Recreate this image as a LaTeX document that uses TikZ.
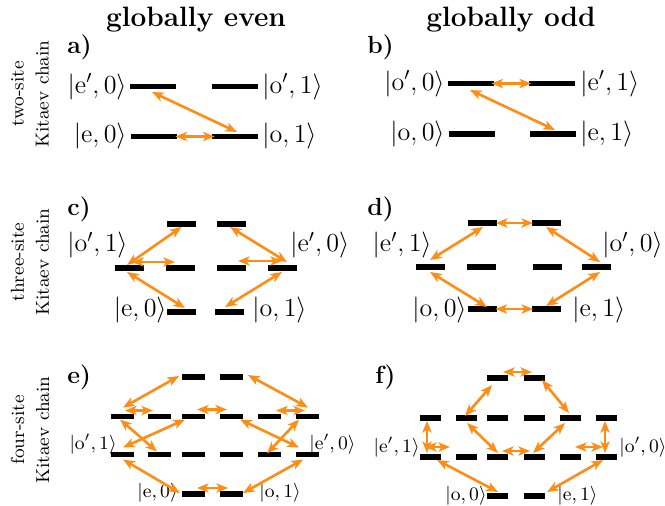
\RequirePackage{fix-cm}
\documentclass[tikz,border=0pt]{standalone}
\usetikzlibrary{arrows.meta}
\definecolor{arr}{RGB}{255,140,20}
\tikzset{
  lvl/.style={fill=black, inner sep=0pt, minimum height=2.9pt, minimum width=#1},
  lab/.style={inner sep=0pt, font=\fontsize{13}{15}\selectfont},
  labS/.style={inner sep=0pt, font=\fontsize{9.5}{11}\selectfont},
  hdr/.style={inner sep=0pt, anchor=base, font=\fontsize{14}{16}\selectfont\bfseries},
  plet/.style={inner sep=0pt, anchor=base west, font=\fontsize{12.4}{14}\selectfont\bfseries},
  side/.style={inner sep=0pt, rotate=90, align=center, font=\fontsize{9.4}{12.5}\selectfont},
  tr/.style={draw=arr, line width=1.3pt,
    {Stealth[length=5.8pt,width=4.6pt,inset=1.5pt]}-{Stealth[length=5.8pt,width=4.6pt,inset=1.5pt]}}
}
\begin{document}
\begin{tikzpicture}[x=0.5pt,y=-0.5pt]
\path[use as bounding box] (0,0) rectangle (665,506);

% headers
\node[hdr] (h1) at (196,27) {globally even};
\node[hdr] (h2) at (511,27) {globally odd};

% side labels
\node[side] (s1) at (30,94) {two-site\\Kitaev chain};
\node[side] (s2) at (30,262) {three-site\\Kitaev chain};
\node[side] (s3) at (30,430) {four-site\\Kitaev chain};

% panel letters
\node[plet] (pa) at (67,54) {a)};
\node[plet] (pb) at (367,54) {b)};
\node[plet] (pc) at (67,216) {c)};
\node[plet] (pd) at (367,216) {d)};
\node[plet] (pe) at (67,384) {e)};
\node[plet] (pf) at (375,384) {f)};

% ---------- panel a ----------
\node[lvl=23pt] (A1) at (153,86.5) {};
\node[lvl=23pt] (A2) at (234.5,86.5) {};
\node[lvl=23pt] (A3) at (153.5,136.5) {};
\node[lvl=23pt] (A4) at (234.5,136.5) {};
\node[lab, anchor=east] (la1) at (127,86.5) {$|\mathrm{e}',0\rangle$};
\node[lab, anchor=west] (la2) at (262,86.5) {$|\mathrm{o}',1\rangle$};
\node[lab, anchor=east] (la3) at (127,136.5) {$|\mathrm{e},0\rangle$};
\node[lab, anchor=west] (la4) at (262,136.5) {$|\mathrm{o},1\rangle$};
\draw[tr] ([shift={(-1.5,0)}]A3.east) -- ([shift={(3.5,0)}]A4.west);
\draw[tr] ([shift={(-1,5.5)}]A1.center) -- ([shift={(2.5,-4.5)}]A4.center);

% ---------- panel b ----------
\node[lvl=23pt] (B1) at (471,83.5) {};
\node[lvl=23pt] (B2) at (551.5,83.5) {};
\node[lvl=23pt] (B3) at (472,134) {};
\node[lvl=23pt] (B4) at (552.5,134) {};
\node[lab, anchor=east] (lb1) at (445,83.5) {$|\mathrm{o}',0\rangle$};
\node[lab, anchor=west] (lb2) at (580,83.5) {$|\mathrm{e}',1\rangle$};
\node[lab, anchor=east] (lb3) at (445,134) {$|\mathrm{o},0\rangle$};
\node[lab, anchor=west] (lb4) at (580,134) {$|\mathrm{e},1\rangle$};
\draw[tr] ([shift={(-3,0)}]B1.east) -- ([shift={(3,0)}]B2.west);
\draw[tr] ([shift={(-1,6.5)}]B1.center) -- ([shift={(2.5,-4)}]B4.center);

% ---------- panel c ----------
\node[lvl=14.5pt] (C1) at (181.5,224) {};
\node[lvl=14.5pt] (C2) at (231,224) {};
\node[lvl=14.5pt] (C3) at (129.5,268) {};
\node[lvl=14.5pt] (C4) at (180.5,268) {};
\node[lvl=14.5pt] (C5) at (231,268) {};
\node[lvl=14.5pt] (C6) at (282,268) {};
\node[lvl=14.5pt] (C7) at (181.5,312) {};
\node[lvl=14.5pt] (C8) at (229.5,312) {};
\node[lab, anchor=east] (lc1) at (128,245) {$|\mathrm{o}',1\rangle$};
\node[lab, anchor=west] (lc2) at (290,245) {$|\mathrm{e}',0\rangle$};
\node[lab, anchor=east] (lc3) at (167,310) {$|\mathrm{e},0\rangle$};
\node[lab, anchor=west] (lc4) at (252,310) {$|\mathrm{o},1\rangle$};
\draw[tr] ([shift={(-2.5,-3)}]C3.center) -- ([shift={(0,3)}]C1.center);
\draw[tr] ([shift={(2.5,-6)}]C3.center) -- ([shift={(-5.5,-6)}]C4.center);
\draw[tr] ([shift={(-2.5,4)}]C3.center) -- ([shift={(3.5,-4)}]C7.center);
\draw[tr] ([shift={(-1,3)}]C2.center) -- ([shift={(5,-6)}]C6.center);
\draw[tr] ([shift={(7,-7)}]C5.center) -- ([shift={(0,-7)}]C6.center);
\draw[tr] ([shift={(0,4)}]C6.center) -- ([shift={(-4.5,-5)}]C8.center);

% ---------- panel d ----------
\node[lvl=14.5pt] (D1) at (482.5,223) {};
\node[lvl=14.5pt] (D2) at (546.5,223) {};
\node[lvl=14.5pt] (D3) at (430.5,267) {};
\node[lvl=14.5pt] (D4) at (481.5,267) {};
\node[lvl=14.5pt] (D5) at (547,267) {};
\node[lvl=14.5pt] (D6) at (596.5,267) {};
\node[lvl=14.5pt] (D7) at (482,309) {};
\node[lvl=14.5pt] (D8) at (546.5,309) {};
\node[lab, anchor=east] (ld1) at (432,245) {$|\mathrm{e}',1\rangle$};
\node[lab, anchor=west] (ld2) at (602,245) {$|\mathrm{o}',0\rangle$};
\node[lab, anchor=east] (ld3) at (467,310) {$|\mathrm{o},0\rangle$};
\node[lab, anchor=west] (ld4) at (572,310) {$|\mathrm{e},1\rangle$};
\draw[tr] ([shift={(-1.5,0)}]D1.east) -- ([shift={(1.5,0)}]D2.west);
\draw[tr] ([shift={(-0.5,-7)}]D3.center) -- ([shift={(0.5,4)}]D1.center);
\draw[tr] ([shift={(-0.5,4)}]D2.center) -- ([shift={(3.5,-5)}]D6.center);
\draw[tr] ([shift={(-0.5,5)}]D3.center) -- ([shift={(5,-2)}]D7.center);
\draw[tr] ([shift={(3.5,5)}]D6.center) -- ([shift={(-0.5,-3)}]D8.center);
\draw[tr] ([shift={(-1.5,0)}]D7.east) -- ([shift={(1.5,0)}]D8.west);

% ---------- panel e ----------
\node[lvl=11.5pt] (E1) at (193,377) {};
\node[lvl=11.5pt] (E2) at (231,377) {};
\foreach \n/\x in {3/122,4/159,5/193,6/231,7/269,8/307}
  \node[lvl=11.5pt] (E\n) at (\x,416.5) {};
\foreach \n/\x in {9/122,10/159,11/193,12/231,13/269,14/307}
  \node[lvl=11.5pt] (E\n) at (\x,454.5) {};
\node[lvl=11.5pt] (E15) at (193,494) {};
\node[lvl=11.5pt] (E16) at (231,494) {};
\node[labS, anchor=east] (le1) at (117,444) {$|\mathrm{o}',1\rangle$};
\node[labS, anchor=west] (le2) at (309,444) {$|\mathrm{e}',0\rangle$};
\node[labS, anchor=east] (le3) at (178,492.5) {$|\mathrm{e},0\rangle$};
\node[labS, anchor=west] (le4) at (259,492.5) {$|\mathrm{o},1\rangle$};
\draw[tr] ([shift={(1,-9)}]E3.center) -- ([shift={(-14,-1)}]E1.center);
\draw[tr] ([shift={(17,-2)}]E2.center) -- ([shift={(1,-9)}]E8.center);
\draw[tr] ([shift={(3,-6)}]E3.center) -- ([shift={(-6,-6)}]E4.center);
\draw[tr] ([shift={(4,-7)}]E5.center) -- ([shift={(-4,-7)}]E6.center);
\draw[tr] ([shift={(7,-6)}]E7.center) -- ([shift={(-2,-6)}]E8.center);
\draw[tr] ([shift={(-2,3)}]E3.center) -- ([shift={(-2,-3)}]E10.center);
\draw[tr] ([shift={(-8,3)}]E5.center) -- ([shift={(1,-7)}]E9.center);
\draw[tr] ([shift={(9,3)}]E6.center) -- ([shift={(-8,-7)}]E14.center);
\draw[tr] ([shift={(-8,3)}]E8.center) -- ([shift={(-2,-1)}]E13.center);
\draw[tr] ([shift={(1,5)}]E9.center) -- ([shift={(-13,-1)}]E15.center);
\draw[tr] ([shift={(-4,5)}]E14.center) -- ([shift={(12,-1)}]E16.center);
\draw[tr] ([shift={(4,-6)}]E15.center) -- ([shift={(-3,-6)}]E16.center);

% ---------- panel f ----------
\node[lvl=10.5pt] (F1) at (497,378) {};
\node[lvl=10.5pt] (F2) at (534,378) {};
\foreach \n/\x in {3/430,4/466.5,5/497,6/534,7/570,8/606.5}
  \node[lvl=10.5pt] (F\n) at (\x,418) {};
\foreach \n/\x in {9/430,10/466.5,11/497,12/534,13/570,14/606.5}
  \node[lvl=10.5pt] (F\n) at (\x,457) {};
\node[lvl=10.5pt] (F15) at (497,496) {};
\node[lvl=10.5pt] (F16) at (534,496) {};
\node[labS, anchor=east] (lf1) at (420,447.5) {$|\mathrm{e}',1\rangle$};
\node[labS, anchor=west] (lf2) at (619,447.5) {$|\mathrm{o}',0\rangle$};
\node[labS, anchor=east] (lf3) at (487,495.5) {$|\mathrm{o},0\rangle$};
\node[labS, anchor=west] (lf4) at (557,495.5) {$|\mathrm{e},1\rangle$};
\draw[tr] ([shift={(6,-6)}]F1.center) -- ([shift={(-2,-6)}]F2.center);
\draw[tr] ([shift={(-5,7)}]F1.center) -- ([shift={(-1.5,-2)}]F4.center);
\draw[tr] ([shift={(8,2)}]F2.center) -- ([shift={(-1,-5)}]F7.center);
\draw[tr] ([shift={(0.5,5)}]F4.center) -- ([shift={(1,-4)}]F11.center);
\draw[tr] ([shift={(-5,5)}]F7.center) -- ([shift={(-1,-4)}]F12.center);
\draw[tr] ([shift={(5,-6)}]F11.center) -- ([shift={(-4,-6)}]F12.center);
\draw[tr] ([shift={(-5,-10)}]F9.center) -- ([shift={(-16.5,-10)}]F10.center);
\draw[tr] ([shift={(5,-10)}]F13.center) -- ([shift={(-3.5,-10)}]F14.center);
\draw[tr] ([shift={(-3,3)}]F3.center) -- ([shift={(-3,-4)}]F9.center);
\draw[tr] ([shift={(-1.5,3)}]F8.center) -- ([shift={(-1.5,-4)}]F14.center);
\draw[tr] ([shift={(7,3)}]F9.center) -- ([shift={(1,-4)}]F15.center);
\draw[tr] ([shift={(-3.5,3)}]F14.center) -- ([shift={(13,-4)}]F16.center);
\end{tikzpicture}
\end{document}
